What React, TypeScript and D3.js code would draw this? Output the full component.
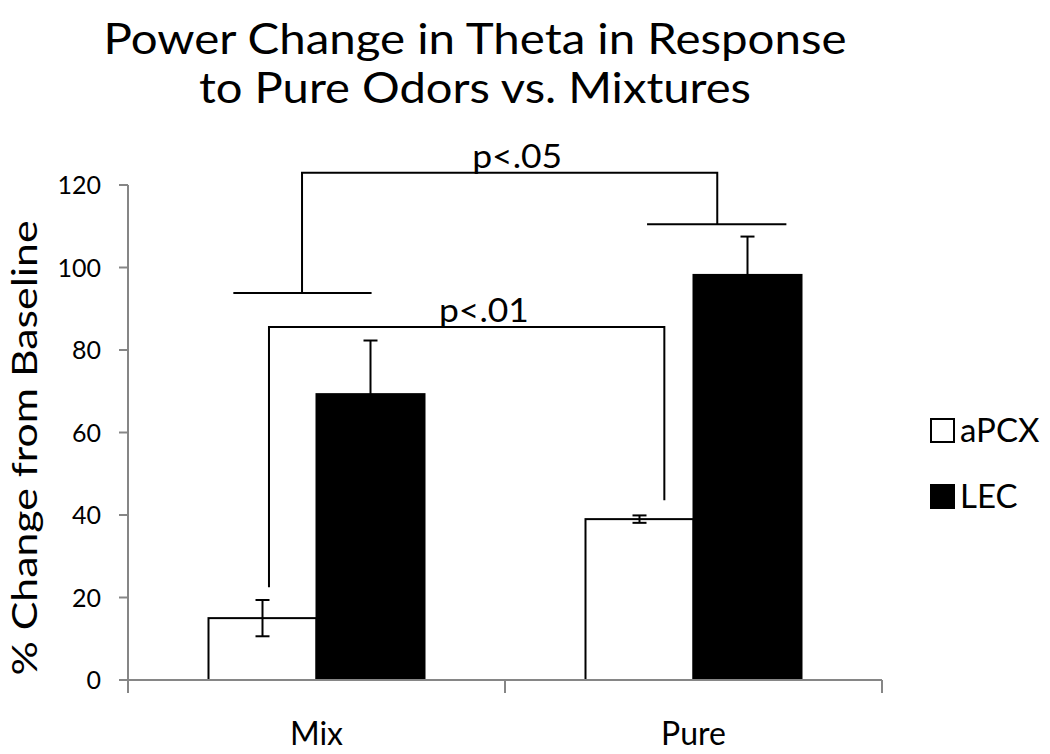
import * as d3 from "d3";

const groups = ["Mix", "Pure"];
const series = ["aPCX", "LEC"];
const seriesFill: Record<string, string> = { aPCX: "#ffffff", LEC: "#000000" };
const means = [
  [15.0, 69.3],
  [39.0, 98.2],
];
const errors = [
  [4.4, 13.0],
  [0.9, 9.3],
];
const yTicks = [0, 20, 40, 60, 80, 100, 120];
const titleLines = ["Power Change in Theta in Response", "to Pure Odors vs. Mixtures"];

// significance brackets, x as (group, offset in bar widths from group centre), y in data units
const brackets = [
  {
    label: "p<.01",
    left: { group: "Mix", off: -0.44, bottom: 22.5 },
    right: { group: "Pure", off: -0.27, bottom: 43.6 },
    top: 85.6,
    labelShift: 0.16,
  },
  {
    label: "p<.05",
    left: { group: "Mix", off: -0.134, bottom: 93.8 },
    right: { group: "Pure", off: 0.22, bottom: 110.5 },
    top: 123,
    labelShift: 0.07,
  },
];
// horizontal caps that bracket legs stand on
const groupBars = [
  { group: "Mix", from: -0.77, to: 0.51, y: 93.8 },
  { group: "Pure", from: -0.43, to: 0.86, y: 110.5 },
];

const font = "Lato, 'Open Sans', sans-serif";

export default function App() {
  const width = 1050;
  const height = 754;
  const x = d3.scaleBand().domain(groups).range([128, 882]);
  const y = d3.scaleLinear().domain([0, 120]).range([680, 185]);
  const barW = 108;
  const inner = d3.scaleBand().domain(series).range([-barW, barW]);
  const gx = (g: string, off: number) => (x(g) ?? 0) + x.bandwidth() / 2 + off * barW;
  const axisColor = "#868686";

  return (
    <svg
      width={width}
      height={height}
      style={{ position: "absolute", left: 0, top: 0, background: "#fff" }}
      fontFamily={font}
    >
      <rect width={width} height={height} fill="#fff" />

      {titleLines.map((t, i) => (
        <text
          key={t}
          x={475}
          y={54 + i * 49}
          textAnchor="middle"
          fontSize={42}
          textLength={i === 0 ? 743 : 552}
          lengthAdjust="spacingAndGlyphs"
          fill="#000"
        >
          {t}
        </text>
      ))}

      {/* y axis */}
      <line x1={128} x2={128} y1={y(120)} y2={693} stroke={axisColor} strokeWidth={2} />
      {yTicks.map((t) => (
        <g key={t} transform={`translate(0,${y(t)})`}>
          <line x1={119} x2={128} stroke={axisColor} strokeWidth={2} />
          <text x={101} dy="0.36em" textAnchor="end" fontSize={25} fill="#000">
            {t}
          </text>
        </g>
      ))}
      <text
        transform={`translate(37,448) rotate(-90)`}
        textAnchor="middle"
        fontSize={34}
        textLength={455}
        lengthAdjust="spacingAndGlyphs"
        fill="#000"
      >
        % Change from Baseline
      </text>

      {/* bars */}
      {groups.map((g, gi) =>
        series.map((s, si) => {
          const x0 = gx(g, 0) + (inner(s) ?? 0);
          const cx = x0 + inner.bandwidth() / 2;
          const v = means[gi][si];
          const e = errors[gi][si];
          return (
            <g key={`${g}-${s}`}>
              <rect
                x={x0}
                y={y(v)}
                width={inner.bandwidth()}
                height={y(0) - y(v)}
                fill={seriesFill[s]}
                stroke="#000"
                strokeWidth={2}
              />
              <line x1={cx} x2={cx} y1={y(v + e)} y2={y(v - e)} stroke="#000" strokeWidth={2} />
              <line x1={cx - 7} x2={cx + 7} y1={y(v + e)} y2={y(v + e)} stroke="#000" strokeWidth={2} />
              <line x1={cx - 7} x2={cx + 7} y1={y(v - e)} y2={y(v - e)} stroke="#000" strokeWidth={2} />
            </g>
          );
        })
      )}

      {/* x axis */}
      <line x1={128} x2={882} y1={y(0)} y2={y(0)} stroke={axisColor} strokeWidth={2} />
      {[128, ...groups.map((g) => (x(g) ?? 0) + x.bandwidth())].map((t) => (
        <line key={t} x1={t} x2={t} y1={y(0)} y2={693} stroke={axisColor} strokeWidth={2} />
      ))}
      {groups.map((g) => (
        <text key={g} x={gx(g, 0)} y={745} textAnchor="middle" fontSize={32} fill="#000">
          {g}
        </text>
      ))}

      {/* significance brackets */}
      {groupBars.map((b) => (
        <line
          key={b.group}
          x1={gx(b.group, b.from)}
          x2={gx(b.group, b.to)}
          y1={y(b.y)}
          y2={y(b.y)}
          stroke="#000"
          strokeWidth={2}
        />
      ))}
      {brackets.map((b) => {
        const xl = gx(b.left.group, b.left.off);
        const xr = gx(b.right.group, b.right.off);
        const path = d3.path();
        path.moveTo(xl, y(b.left.bottom));
        path.lineTo(xl, y(b.top));
        path.lineTo(xr, y(b.top));
        path.lineTo(xr, y(b.right.bottom));
        return (
          <g key={b.label}>
            <path d={path.toString()} fill="none" stroke="#000" strokeWidth={2} />
            <text
              x={(xl + xr) / 2 + b.labelShift * barW}
              y={y(b.top) - 5}
              textAnchor="middle"
              fontSize={32}
              textLength={90}
              lengthAdjust="spacingAndGlyphs"
              fill="#000"
            >
              {b.label}
            </text>
          </g>
        );
      })}

      {/* legend */}
      {series.map((s, i) => (
        <g key={s} transform={`translate(931,${419 + i * 66})`}>
          <rect width={23} height={23} fill={seriesFill[s]} stroke="#000" strokeWidth={2} />
          <text x={29} y={23} fontSize={33} fill="#000">
            {s}
          </text>
        </g>
      ))}
    </svg>
  );
}
